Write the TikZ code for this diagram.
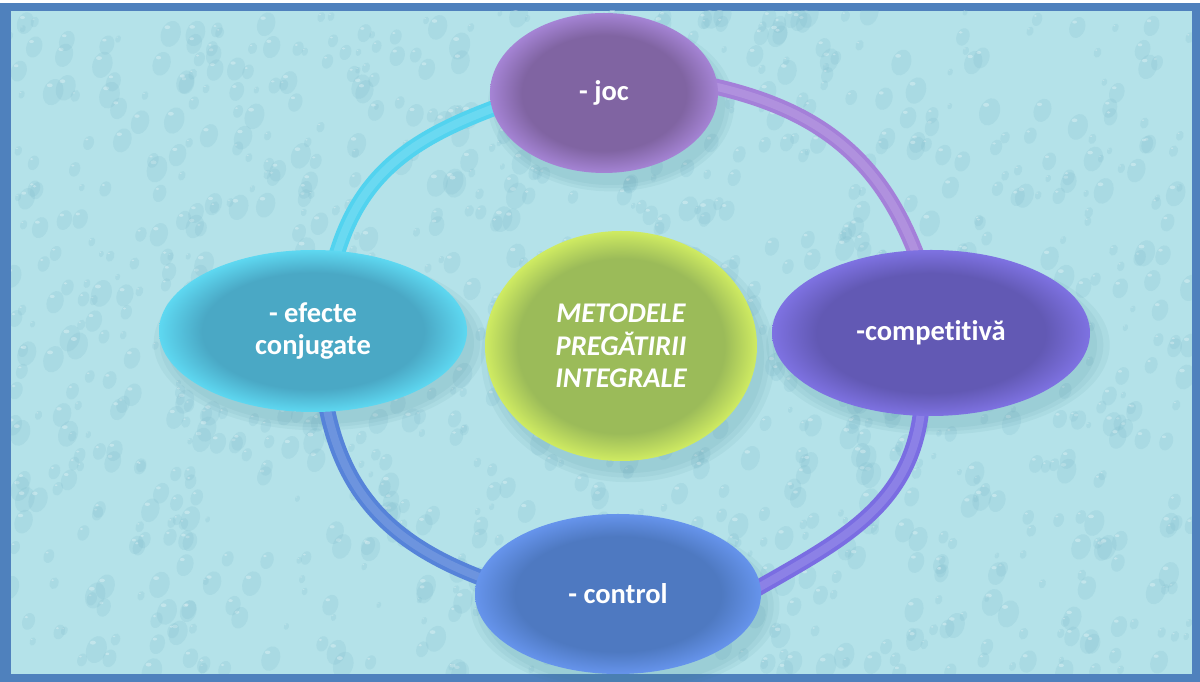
\documentclass[tikz,border=0pt]{standalone}
\usepackage{fontspec}
\setmainfont{Carlito}[Ligatures=NoCommon]
\usetikzlibrary{shapes.geometric}
\pgfdeclarelayer{bg}
\pgfdeclarelayer{mid}
\pgfsetlayers{bg,mid,main}
\definecolor{frameblue}{HTML}{4F81BD}
\definecolor{bgcyan}{HTML}{B4E2E9}
\definecolor{dropc}{HTML}{7DBBCB}
\definecolor{shadowc}{HTML}{3E7F8E}
\definecolor{jocA}{HTML}{8064A2}\definecolor{jocB}{HTML}{A584D5}
\definecolor{efeA}{HTML}{4AA8C5}\definecolor{efeB}{HTML}{5ED8F1}
\definecolor{comA}{HTML}{6259B4}\definecolor{comB}{HTML}{7E72E2}
\definecolor{ctlA}{HTML}{4E79C1}\definecolor{ctlB}{HTML}{6694EC}
\definecolor{cenA}{HTML}{9BBB59}\definecolor{cenB}{HTML}{CFEB62}
\definecolor{arcAc}{HTML}{52D3EF}
\definecolor{arcBc}{HTML}{A480D9}
\definecolor{arcCc}{HTML}{7A6DE2}
\definecolor{arcDc}{HTML}{5683D9}
\pgfdeclareradialshading{jocsh}{\pgfpointorigin}{color(0bp)=(jocA); color(18bp)=(jocA); color(25bp)=(jocB); color(50bp)=(jocB)}
\pgfdeclareradialshading{efesh}{\pgfpointorigin}{color(0bp)=(efeA); color(18bp)=(efeA); color(25bp)=(efeB); color(50bp)=(efeB)}
\pgfdeclareradialshading{comsh}{\pgfpointorigin}{color(0bp)=(comA); color(18bp)=(comA); color(25bp)=(comB); color(50bp)=(comB)}
\pgfdeclareradialshading{ctlsh}{\pgfpointorigin}{color(0bp)=(ctlA); color(18bp)=(ctlA); color(25bp)=(ctlB); color(50bp)=(ctlB)}
\pgfdeclareradialshading{censh}{\pgfpointorigin}{color(0bp)=(cenA); color(19bp)=(cenA); color(25bp)=(cenB); color(50bp)=(cenB)}
\tikzset{
  bub/.style={ellipse, inner sep=0pt, text=white, align=center,
    font=\bfseries\fontsize{28.5}{32}\selectfont},
  band/.style={line width=16pt, draw=#1, shorten <=-12pt, shorten >=-12pt,
    postaction={draw=white, line width=8pt, draw opacity=0.14}},
  shad/.style={fill=shadowc, opacity=0.07}
}
\begin{document}
\begin{tikzpicture}[x=1pt,y=1pt]
\useasboundingbox (0,0) rectangle (1200,682);
\begin{pgfonlayer}{bg}
\fill[white] (0,0) rectangle (1200,682);
\fill[frameblue] (0,0) rectangle (1200,679);
\fill[bgcyan] (11,8) rectangle (1192,671);
\begin{scope}
\clip (11,8) rectangle (1192,671);
\pgfmathsetseed{7}
\foreach \i in {1,...,1100}{
  \pgfmathsetmacro\dx{10+1182*rnd}
  \pgfmathsetmacro\dy{8+663*rnd}
  \pgfmathsetmacro\rr{3+11*rnd}
  \pgfmathsetmacro\rx{0.72*\rr}
  \pgfmathsetmacro\hx{0.22*\rr}
  \pgfmathsetmacro\hy{0.14*\rr}
  \fill[dropc, opacity=0.20, rotate around={-20:(\dx,\dy)}] (\dx,\dy) ellipse [x radius=\rx, y radius=\rr];
  \fill[white, opacity=0.30] (\dx-0.25*\rr,\dy+0.5*\rr) ellipse [x radius=\hx, y radius=\hy];
}
\end{scope}
\end{pgfonlayer}

\node[bub, minimum width=228pt, minimum height=160pt, shading=jocsh] (joc) at (604,589) {- joc};
\node[bub, minimum width=308pt, minimum height=162pt, shading=efesh] (efe) at (313,351) {- efecte\\conjugate};
\node[bub, minimum width=318pt, minimum height=166pt, shading=comsh] (com) at (931,349) {-competitivă};
\node[bub, minimum width=286pt, minimum height=160pt, shading=ctlsh] (ctl) at (618,88) {- control};
\node[bub, minimum width=272pt, minimum height=230pt, shading=censh,
  font=\bfseries\itshape\fontsize{28.5}{32.5}\selectfont] (cen) at (621,336) {METODELE\\PREGĂTIRII\\INTEGRALE};

\begin{pgfonlayer}{mid}
\foreach \n/\a/\b in {joc/114/80, efe/154/81, com/159/83, ctl/143/80, cen/136/115}{
  \foreach \k in {1.00,1.04,1.08}{
    \pgfmathsetmacro\sa{\a*\k}
    \pgfmathsetmacro\sb{\b*\k}
    \fill[shad] ([shift={(7,-12)}]\n.center) ellipse [x radius=\sa, y radius=\sb];
  }
}
\end{pgfonlayer}

\begin{pgfonlayer}{mid}
\draw[band=arcAc] (efe.73) to[out=75, in=200] (joc.188);
\draw[band=arcBc] (joc.3) to[out=-12, in=110] (com.101);
\draw[band=arcCc] (com.263) to[out=-95, in=30] (ctl.3);
\draw[band=arcDc] (efe.280) to[out=-80, in=160] (ctl.173);
\end{pgfonlayer}
\end{tikzpicture}
\end{document}
